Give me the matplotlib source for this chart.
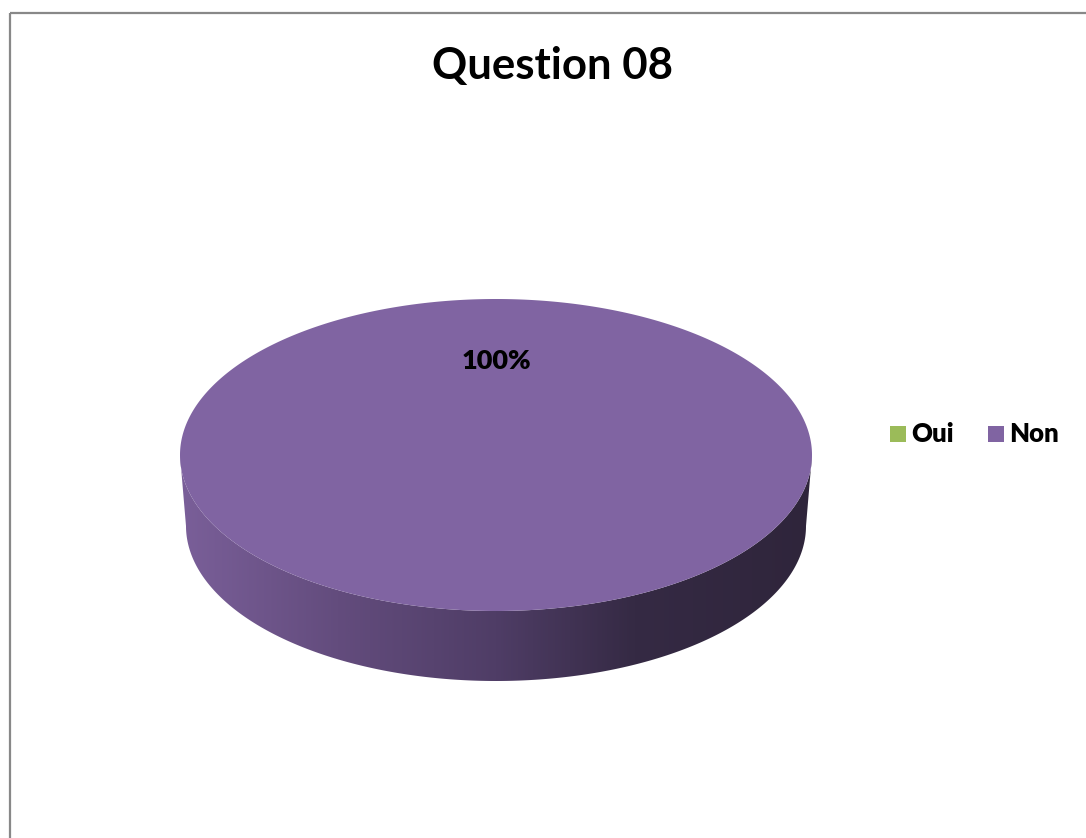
import numpy as np
import matplotlib
matplotlib.use("Agg")
import matplotlib.pyplot as plt
from matplotlib.patches import Polygon, Rectangle
from matplotlib.colors import LinearSegmentedColormap

title = "Question 08"
labels = ["Oui", "Non"]
values = [0, 100]
colors = ["#9bbb59", "#8064a2"]

W, H = 1086, 838
fig = plt.figure(figsize=(W / 100, H / 100), dpi=100)
ax = fig.add_axes([0, 0, 1, 1])
ax.set_xlim(0, W)
ax.set_ylim(H, 0)
ax.axis("off")

# frame
ax.add_patch(Rectangle((10, 13), W + 20, H + 20, fill=False, ec="#888888", lw=1.6, zorder=1))

# pie geometry (pixel coords)
cx, cy, rx, ry = 496, 455, 316, 156
bcx, bcy, brx, bry = 496, 526, 310, 155

total = sum(values)
start = 90.0

def side_gradient(poly):
    cmap = LinearSegmentedColormap.from_list(
        "g", [(0.0, "#7a5f99"), (0.25, "#634c7d"), (0.5, "#4f3d66"),
              (0.72, "#352a44"), (1.0, "#2f253b")])
    grad = np.linspace(0, 1, 512).reshape(1, -1)
    im = ax.imshow(grad, cmap=cmap, extent=(cx - rx, cx + rx, 700, 440), aspect="auto", zorder=2)
    im.set_clip_path(poly)

for lab, val, col in zip(labels, values, colors):
    if val <= 0:
        continue
    frac = val / total
    a0 = np.deg2rad(start)
    a1 = np.deg2rad(start - 360 * frac)
    t = np.linspace(0, np.pi, 361)
    top = np.column_stack([cx + rx * np.cos(t), cy + ry * np.sin(t)])
    bot = np.column_stack([bcx + brx * np.cos(t[::-1]), bcy + bry * np.sin(t[::-1])])
    side = Polygon(np.vstack([top, bot]), closed=True, fc="none", ec="none", zorder=2)
    ax.add_patch(side)
    side_gradient(side)
    tt = np.linspace(a0, a1, 721)
    pts = np.column_stack([cx + rx * np.cos(tt), cy - ry * np.sin(tt)])
    if frac < 1:
        pts = np.vstack([[cx, cy], pts])
    ax.add_patch(Polygon(pts, closed=True, fc=col, ec="none", zorder=3))
    mid = (a0 + a1) / 2 if frac < 1 else np.deg2rad(90)
    ax.text(cx, cy - 0.6 * ry * np.sin(mid), f"{val:.0f}%",
            ha="center", va="center", fontsize=19.5, fontweight="heavy",
            family=["Lato", "DejaVu Sans"], color="black", zorder=4)

ax.text(553, 66, title, ha="center", va="center", fontsize=31.5, fontweight="bold",
        family=["Lato", "DejaVu Sans"], zorder=4)

# legend
lx = [890, 988]
for x0, lab, col in zip(lx, labels, colors):
    ax.add_patch(Rectangle((x0, 426), 16, 16, fc=col, ec="none", zorder=4))
    ax.text(x0 + 21, 434, lab, ha="left", va="center", fontsize=18.5, fontweight="heavy",
            family=["Lato", "DejaVu Sans"], zorder=4)

fig.savefig("out.png", dpi=100)
